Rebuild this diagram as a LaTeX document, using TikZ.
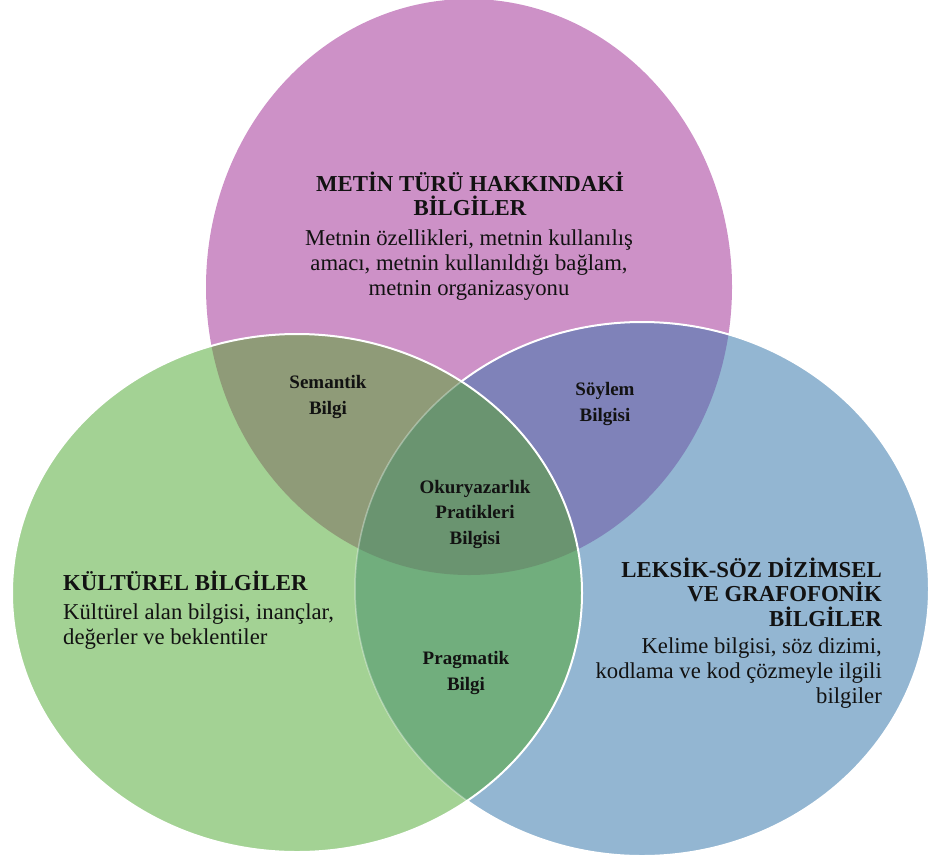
\documentclass[tikz,border=0pt]{standalone}
\usepackage{fontspec}
\setmainfont{Liberation Serif}
\definecolor{cP}{RGB}{205,145,199}
\definecolor{cG}{RGB}{163,210,148}
\definecolor{cB}{RGB}{147,182,210}
\definecolor{cPG}{RGB}{143,155,120}
\definecolor{cPB}{RGB}{127,130,185}
\definecolor{cGB}{RGB}{113,174,125}
\definecolor{cPGB}{RGB}{106,148,112}
\definecolor{txt}{RGB}{18,18,18}
\begin{document}
\begin{tikzpicture}[x=1pt,y=-1pt,
  bigtitle/.style={font=\fontsize{22.8}{24.5}\selectfont\bfseries, text=txt, inner sep=0pt},
  bodytext/.style={font=\fontsize{22.7}{25}\selectfont, text=txt, inner sep=0pt},
  smalllabel/.style={font=\fontsize{19}{25.5}\selectfont\bfseries, text=txt, align=center, inner sep=0pt},
  outline/.style={white, line width=2pt}]
\useasboundingbox (0,0) rectangle (928,854);
\def\pinkE{(469,287) ellipse [x radius=263pt, y radius=288pt]}
\def\greenE{(297,593) ellipse [x radius=285pt, y radius=259pt]}
\def\blueE{(642,589) ellipse [x radius=287pt, y radius=267pt]}
% base fills
\fill[cP] \pinkE;
\fill[cB] \blueE;
\begin{scope}
  \clip \blueE;
  \fill[cPB] \pinkE;
\end{scope}
\draw[outline] \blueE;
\fill[cG] \greenE;
\begin{scope}
  \clip \greenE;
  \fill[cPG] \pinkE;
  \fill[cGB] \blueE;
  \begin{scope}
    \clip \blueE;
    \fill[cPGB] \pinkE;
  \end{scope}
  \draw[white, opacity=0.35, line width=1.5pt] \blueE;
\end{scope}
\draw[outline] \greenE;
% texts
\node[bigtitle, align=center] (t1) at (470,194) {METİN TÜRÜ HAKKINDAKİ\\BİLGİLER};
\node[bodytext, align=center] (b1) at (469,265) {Metnin özellikleri, metnin kullanılış\\amacı, metnin kullanıldığı bağlam,\\metnin organizasyonu};
\node[bigtitle, anchor=west] (t2) at (63,581) {KÜLTÜREL BİLGİLER};
\node[bodytext, align=left, anchor=west] (b2) at (63,627) {Kültürel alan bilgisi, inançlar,\\değerler ve beklentiler};
\node[bigtitle, align=right, anchor=east] (t3) at (882,592) {LEKSİK-SÖZ DİZİMSEL\\VE GRAFOFONİK\\BİLGİLER};
\node[bodytext, align=right, anchor=east] (b3) at (882,673) {Kelime bilgisi, söz dizimi,\\kodlama ve kod çözmeyle ilgili\\bilgiler};
\node[smalllabel] (s1) at (328,397) {Semantik\\Bilgi};
\node[smalllabel] (s2) at (605,404) {Söylem\\Bilgisi};
\node[smalllabel] (s3) at (475,514) {Okuryazarlık\\Pratikleri\\Bilgisi};
\node[smalllabel] (s4) at (466,673) {Pragmatik\\Bilgi};
\end{tikzpicture}
\end{document}
